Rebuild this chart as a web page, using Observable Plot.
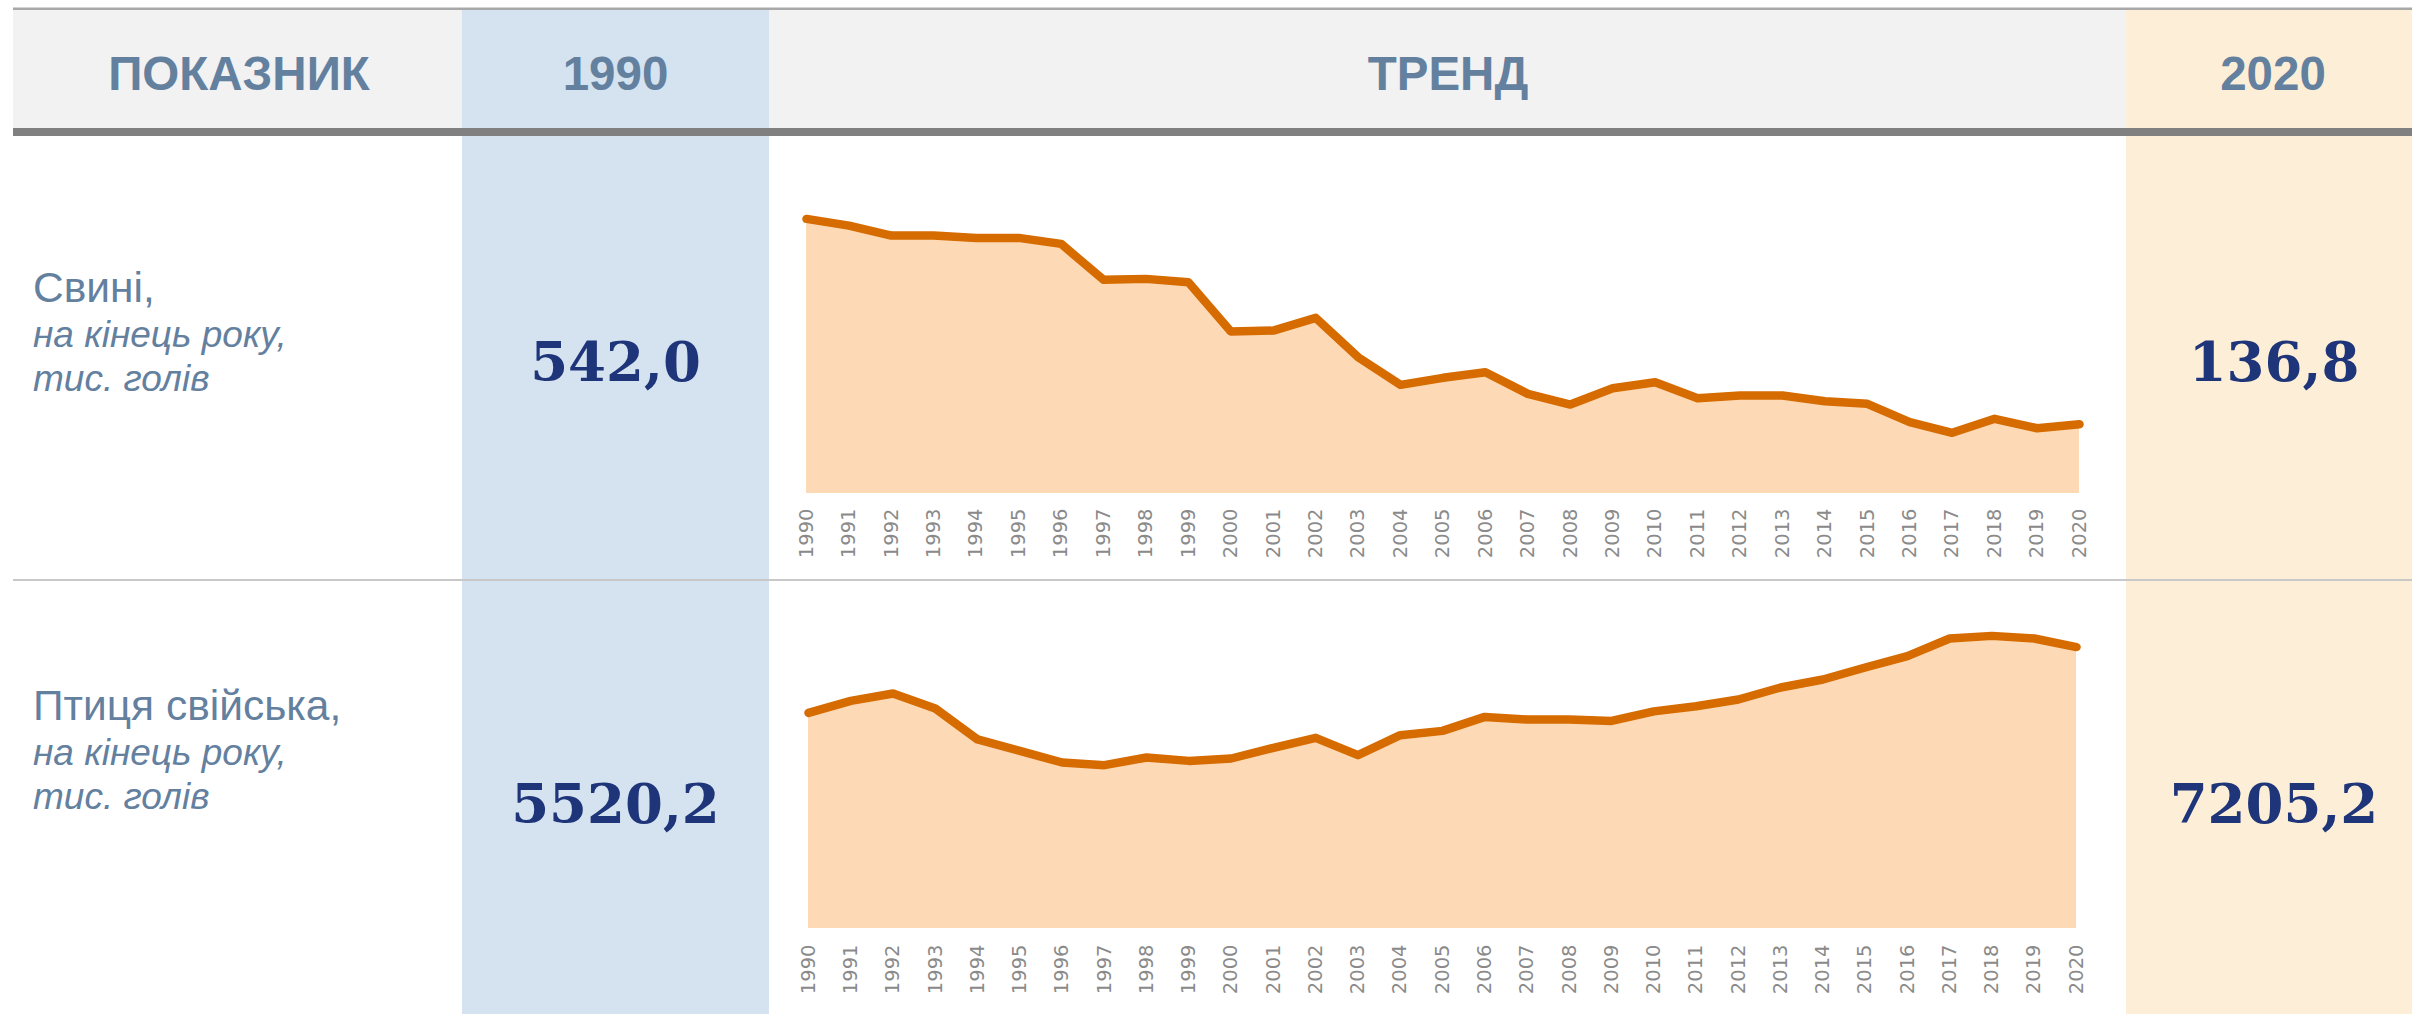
<!DOCTYPE html>
<html>
<head>
<meta charset="utf-8">
<script src="https://cdn.jsdelivr.net/npm/d3@7"></script>
<script src="https://cdn.jsdelivr.net/npm/@observablehq/plot@0.6"></script>
<style>
  html, body { margin: 0; padding: 0; background: #ffffff; }
  #page { position: relative; width: 2412px; height: 1014px; overflow: hidden; }
  #page > svg, #page > .chart { position: absolute; }
  .chart svg { overflow: visible; }
</style>
</head>
<body>
<div id="page"></div>
<script>
// ---- data ----
const headers = ["ПОКАЗНИК", "1990", "ТРЕНД", "2020"];
const years = [1990, 1991, 1992, 1993, 1994, 1995, 1996, 1997, 1998, 1999, 2000,
               2001, 2002, 2003, 2004, 2005, 2006, 2007, 2008, 2009, 2010,
               2011, 2012, 2013, 2014, 2015, 2016, 2017, 2018, 2019, 2020];
const pigs = [542.0, 528.8, 509.1, 509.1, 504.5, 504.5, 492.7, 421.7, 423.6, 417.0, 319.7,
              321.6, 346.7, 269.0, 214.5, 228.3, 239.4, 196.7, 175.6, 207.8, 219.6,
              188.0, 193.4, 193.4, 182.1, 177.0, 140.7, 119.8, 147.4, 128.8, 136.8];
const poultry = [5520.2, 5827, 6016, 5632, 4839, 4547, 4250, 4181, 4378, 4291, 4352,
                 4624, 4880, 4437, 4949, 5059, 5417, 5351, 5351, 5315, 5558,
                 5691, 5863, 6170, 6375, 6682, 6971, 7424, 7491, 7424, 7205.2];
const rowNames = ["Свині,", "Птиця свійська,"];
const rowUnits = ["на кінець року,", "тис. голів"];

// ---- layout / style ----
const W = 2412, H = 1014;
const slate = "#64809f", navy = "#1f3579";
const fmt = v => v.toFixed(1).replace(".", ",");
const NS = "http://www.w3.org/2000/svg";
const page = document.getElementById("page");

const bg = document.createElementNS(NS, "svg");
bg.setAttribute("width", W); bg.setAttribute("height", H);
bg.style.left = "0px"; bg.style.top = "0px";
page.appendChild(bg);
function rect(x, y, w, h, fill) {
  const r = document.createElementNS(NS, "rect");
  r.setAttribute("x", x); r.setAttribute("y", y);
  r.setAttribute("width", w); r.setAttribute("height", h);
  r.setAttribute("fill", fill);
  bg.appendChild(r);
}
function text(str, x, y, opts) {
  const t = document.createElementNS(NS, "text");
  t.setAttribute("x", x); t.setAttribute("y", y);
  t.setAttribute("fill", opts.fill);
  t.setAttribute("font-family", opts.family);
  t.setAttribute("font-size", opts.size);
  if (opts.weight) t.setAttribute("font-weight", opts.weight);
  if (opts.style) t.setAttribute("font-style", opts.style);
  t.setAttribute("text-anchor", opts.anchor || "start");
  t.textContent = str;
  bg.appendChild(t);
}

rect(13, 10, W - 13, 118, "#f2f2f2");          // header band
rect(13, 7.5, W - 13, 2.5, "#a8a8a8");          // top rule
rect(462, 10, 307, H - 10, "#d5e3f0");          // 1990 column
rect(2126, 10, W - 2126, H - 10, "#fdefd7");    // 2020 column
rect(13, 128, W - 13, 8, "#808080");            // thick rule under header
rect(13, 579, W - 13, 2, "#c8c8c8");            // row separator

const sans = "'Liberation Sans', Arial, Helvetica, sans-serif";
const serif = "'DejaVu Serif', Georgia, serif";
const headX = [239, 615.5, 1448, 2273];
headers.forEach((h, i) => text(h, headX[i], 89.5, {fill: slate, family: sans, size: 47.5, weight: "bold", anchor: "middle"}));

// row labels
const rowBase = [302, 720];
rowNames.forEach((name, i) => {
  text(name, 33, rowBase[i], {fill: slate, family: sans, size: 42.5});
  text(rowUnits[0], 33, rowBase[i] + 45, {fill: slate, family: sans, size: 37, style: "italic"});
  text(rowUnits[1], 33, rowBase[i] + 89, {fill: slate, family: sans, size: 37, style: "italic"});
});

// first / last values
const series = [pigs, poultry];
const valBase = [381, 823];
series.forEach((s, i) => {
  text(fmt(s[0]), 615.5, valBase[i], {fill: navy, family: serif, size: 54.5, weight: "bold", anchor: "middle"});
  text(fmt(s[s.length - 1]), 2274, valBase[i], {fill: navy, family: serif, size: 54.5, weight: "bold", anchor: "middle"});
});

// ---- trend charts ----
function trend(values, box) {
  const data = years.map((y, i) => ({year: y, value: values[i]}));
  const chart = Plot.plot({
    width: box.width, height: box.height,
    marginLeft: box.ml, marginRight: box.mr, marginTop: box.mt, marginBottom: box.mb,
    style: {background: "transparent", color: "#8a8a8a", fontFamily: "'DejaVu Sans', sans-serif", fontSize: "19.5px", overflow: "visible"},
    x: {type: "linear", domain: [years[0], years[years.length - 1]], label: null},
    y: {domain: box.ydomain, axis: null},
    marks: [
      Plot.areaY(data, {x: "year", y: "value", fill: "#fed9b5"}),
      Plot.lineY(data, {x: "year", y: "value", stroke: "#d66b00", strokeWidth: 8.5, strokeLinecap: "round", strokeLinejoin: "round"}),
      Plot.axisX({ticks: years, tickFormat: d => String(d), tickRotate: -90, tickSize: 0, tickPadding: box.pad, fontSize: 19.5, label: null})
    ]
  });
  const wrap = document.createElement("div");
  wrap.className = "chart";
  wrap.style.left = box.left + "px";
  wrap.style.top = box.top + "px";
  wrap.appendChild(chart);
  page.appendChild(wrap);
}

trend(pigs, {left: 769, top: 136, width: 1357, height: 444, ml: 37, mr: 47, mt: 53, mb: 87, ydomain: [0, 600], pad: 15});
trend(poultry, {left: 769, top: 580, width: 1357, height: 434, ml: 39, mr: 50, mt: 35.5, mb: 86, ydomain: [0, 8000], pad: 16});
</script>
</body>
</html>
